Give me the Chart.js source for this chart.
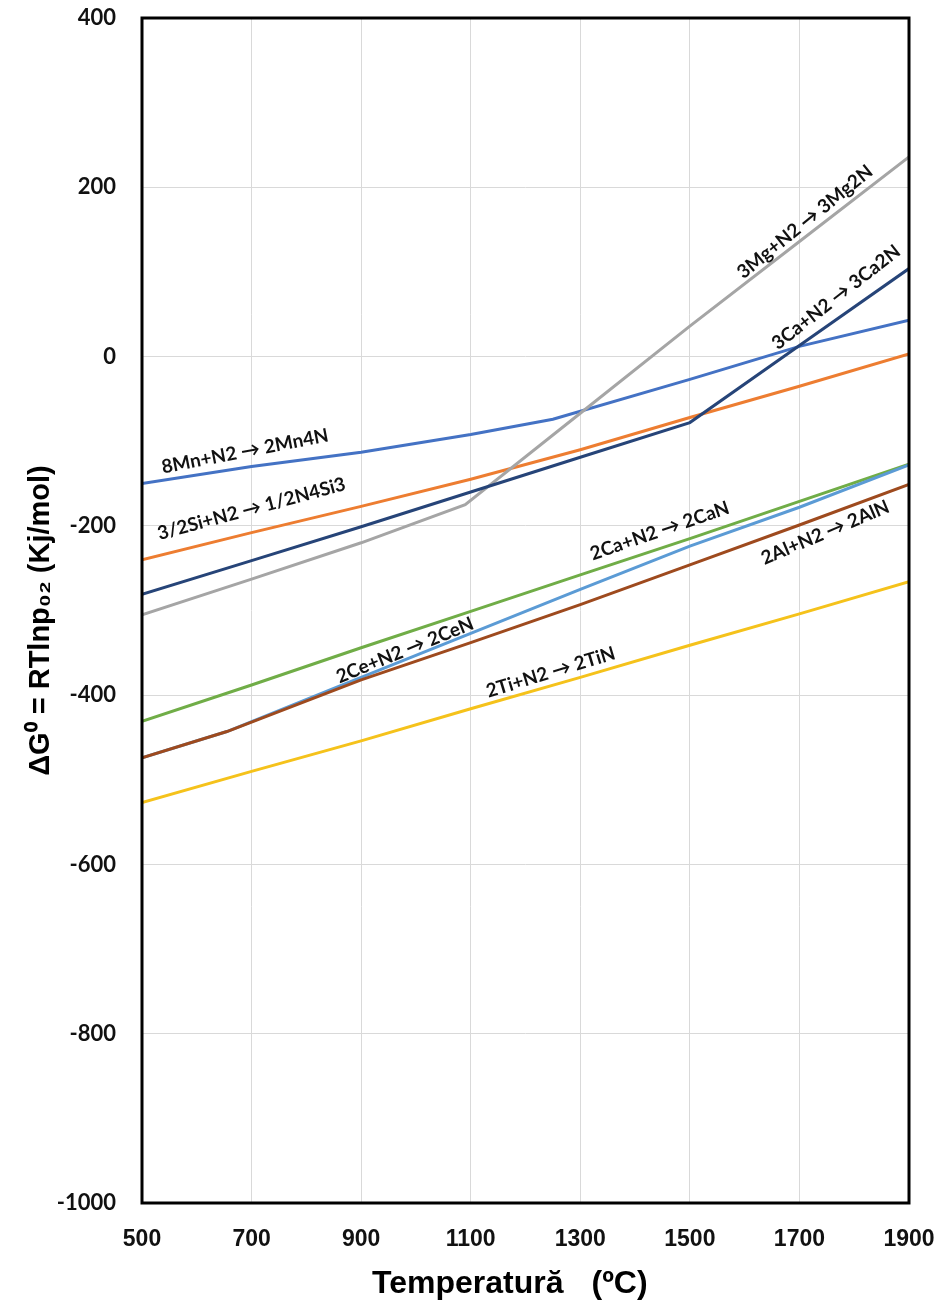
<!DOCTYPE html>
<html>
<head>
<meta charset="utf-8">
<script src="https://cdn.jsdelivr.net/npm/chart.js@4.4.1/dist/chart.umd.min.js"></script>
<style>
  html, body { margin: 0; padding: 0; background: #ffffff; }
  #wrap { width: 934px; height: 1303px; position: relative; }
</style>
</head>
<body>
<div id="wrap"><canvas id="c" width="934" height="1303"></canvas></div>
<script>
// Temperature axis ticks (°C) and ΔG° axis ticks (kJ/mol)
const xTicks = [500, 700, 900, 1100, 1300, 1500, 1700, 1900];
const yTicks = [400, 200, 0, -200, -400, -600, -800, -1000];

// 8Mn + N2 -> 2Mn4N
const mnT = [500, 700, 900, 1100, 1250, 1500, 1700, 1900];
const mnG = [-150, -130, -113, -92, -74, -27, 12, 43];
// 3/2Si + N2 -> 1/2N4Si3
const siT = [500, 700, 900, 1100, 1300, 1500, 1700, 1900];
const siG = [-240, -208, -177, -145, -110, -72, -35, 3];
// 3Ca + N2 -> 3Ca2N
const ca3T = [500, 700, 900, 1100, 1300, 1500, 1700, 1900];
const ca3G = [-281, -241, -201, -160, -119, -78, 13, 104];
// 3Mg + N2 -> 3Mg2N
const mgT = [500, 700, 900, 1090, 1300, 1500, 1700, 1900];
const mgG = [-305, -263, -220, -175, -67, 36, 136, 236];
// 2Ca + N2 -> 2CaN
const caT = [500, 700, 900, 1100, 1300, 1500, 1700, 1900];
const caG = [-431, -388, -344, -301, -258, -215, -171, -127];
// 2Ce + N2 -> 2CeN
const ceT = [500, 655, 850, 1100, 1300, 1500, 1700, 1900];
const ceG = [-474, -443, -392, -327, -275, -224, -178, -128];
// 2Al + N2 -> 2AlN
const alT = [500, 655, 900, 1100, 1300, 1500, 1700, 1900];
const alG = [-474, -443, -382, -338, -293, -246, -199, -151];
// 2Ti + N2 -> 2TiN
const tiT = [500, 700, 900, 1100, 1300, 1500, 1700, 1900];
const tiG = [-527, -490, -454, -416, -379, -341, -304, -266];

// Reaction labels placed in data coordinates, with their slant in degrees
const labelText  = ['8Mn+N2 → 2Mn4N', '3/2Si+N2 → 1/2N4Si3', '3Mg+N2 → 3Mg2N', '3Ca+N2 → 3Ca2N',
                    '2Ca+N2 → 2CaN', '2Ce+N2 → 2CeN', '2Al+N2 → 2AlN', '2Ti+N2 → 2TiN'];
const labelT     = [688, 700, 1710, 1767, 1445, 980, 1747, 1246];
const labelG     = [-112, -180, 159, 70, -206, -347, -208, -373];
const labelAngle = [-11, -15, -39, -38, -19, -22, -23, -17];

// Axis titles
const xTitleMain = 'Temperatură';
const xTitleUnit = '(ºC)';
const yTitle = 'ΔG⁰ = RTlnp₀₂ (Kj/mol)';

function pts(t, g) { return t.map((x, i) => ({ x: x, y: g[i] })); }

function series(data, color) {
  return { data: data, borderColor: color, backgroundColor: color, borderWidth: 3,
           pointRadius: 0, tension: 0, fill: false };
}

const datasets = [
  series(pts(tiT, tiG), '#F5C21B'),
  series(pts(alT, alG), '#9E4A1E'),
  series(pts(ceT, ceG), '#5B9BD5'),
  series(pts(caT, caG), '#70AD47'),
  series(pts(ca3T, ca3G), '#264478'),
  series(pts(mgT, mgG), '#A5A5A5'),
  series(pts(siT, siG), '#ED7D31'),
  series(pts(mnT, mnG), '#4472C4')
];

const framePlugin = {
  id: 'frame',
  afterDatasetsDraw(chart) {
    const ctx = chart.ctx;
    const a = chart.chartArea;
    const xs = chart.scales.x, ys = chart.scales.y;
    ctx.save();
    // reaction labels
    ctx.fillStyle = '#111111';
    ctx.font = 'bold 19px Lato, "Open Sans", sans-serif';
    ctx.textAlign = 'center';
    ctx.textBaseline = 'middle';
    labelText.forEach((txt, i) => {
      ctx.save();
      ctx.translate(xs.getPixelForValue(labelT[i]), ys.getPixelForValue(labelG[i]));
      ctx.rotate(labelAngle[i] * Math.PI / 180);
      ctx.fillText(txt, 0, 0);
      ctx.restore();
    });
    // plot frame
    ctx.strokeStyle = '#000000';
    ctx.lineWidth = 3;
    ctx.strokeRect(a.left, a.top, a.right - a.left, a.bottom - a.top);
    ctx.restore();
  },
  afterDraw(chart) {
    const ctx = chart.ctx;
    const a = chart.chartArea;
    const cx = (a.left + a.right) / 2;
    const cy = (a.top + a.bottom) / 2;
    ctx.save();
    ctx.fillStyle = '#000000';
    ctx.textBaseline = 'middle';
    // x-axis title, two pieces with a wide gap between them
    ctx.font = 'bold 32px "Liberation Sans", Arial, sans-serif';
    ctx.textAlign = 'right';
    ctx.fillText(xTitleMain, cx + 38, a.bottom + 81);
    ctx.textAlign = 'left';
    ctx.fillText(xTitleUnit, cx + 66, a.bottom + 81);
    // y-axis title, rotated
    ctx.font = 'bold 29px "Liberation Sans", Arial, sans-serif';
    ctx.textAlign = 'center';
    ctx.translate(a.left - 101, cy + 10);
    ctx.rotate(-Math.PI / 2);
    ctx.fillText(yTitle, 0, 0);
    ctx.restore();
  }
};

new Chart(document.getElementById('c'), {
  type: 'line',
  data: { datasets: datasets },
  options: {
    responsive: false,
    animation: false,
    layout: { padding: { top: 18, right: 25, left: 0, bottom: 0 } },
    plugins: { legend: { display: false }, tooltip: { enabled: false } },
    scales: {
      x: {
        type: 'linear', min: 500, max: 1900,
        afterBuildTicks(s) { s.ticks = xTicks.map(v => ({ value: v })); },
        afterFit(s) { s.height = 100; s.paddingLeft = 0; s.paddingRight = 0; },
        grid: { color: '#D9D9D9', lineWidth: 1, drawTicks: false },
        border: { display: false },
        ticks: { padding: 23, color: '#111111', maxRotation: 0, autoSkip: false,
                 callback: v => String(v),
                 font: { family: '"Liberation Sans", Arial, sans-serif', size: 23, weight: 'bold' } },
        title: { display: false }
      },
      y: {
        type: 'linear', min: -1000, max: 400,
        afterBuildTicks(s) { s.ticks = yTicks.map(v => ({ value: v })); },
        afterFit(s) { s.width = 142; s.paddingTop = 0; s.paddingBottom = 0; },
        grid: { color: '#D9D9D9', lineWidth: 1, drawTicks: false },
        border: { display: false },
        ticks: { padding: 26, color: '#111111', autoSkip: false,
                 callback: v => String(v),
                 font: { family: 'Lato, "Open Sans", sans-serif', size: 22, weight: 'bold' } },
        title: { display: false }
      }
    }
  },
  plugins: [framePlugin]
});
</script>
</body>
</html>
